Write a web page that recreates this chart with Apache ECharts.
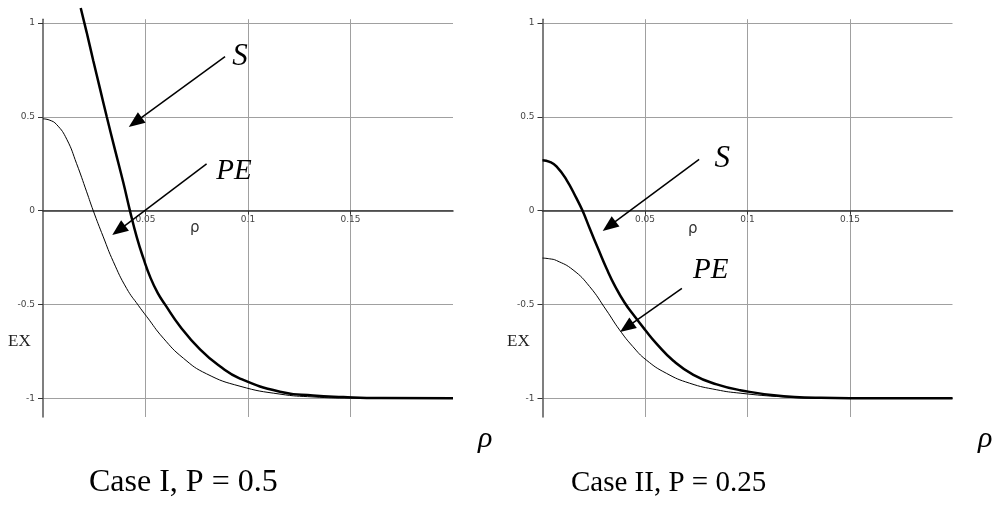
<!DOCTYPE html>
<html>
<head>
<meta charset="utf-8">
<script src="https://cdn.jsdelivr.net/npm/echarts@6.0.0/dist/echarts.min.js"></script>
<style>
  html, body { margin: 0; padding: 0; background: #fff; }
  #chart { width: 1002px; height: 510px; }
</style>
</head>
<body>
<div id="chart"></div>
<script>
// Case I, P = 0.5
const rhoS1 = [0.0184, 0.0213, 0.0245, 0.0278, 0.0311, 0.0351, 0.0392, 0.0424, 0.0457, 0.049, 0.0525, 0.056, 0.0595, 0.0668, 0.0766, 0.0863, 0.0961, 0.1156, 0.1317, 0.1465, 0.165, 0.2];
const exS1 = [1.08, 0.95, 0.80, 0.65, 0.50, 0.325, 0.148, 0.0, -0.14, -0.255, -0.36, -0.44, -0.5, -0.616, -0.74, -0.83, -0.895, -0.965, -0.986, -0.994, -0.999, -1.0];
const rhoPE1 = [0, 0.003, 0.0067, 0.0116, 0.0164, 0.0213, 0.0245, 0.0294, 0.0343, 0.0408, 0.0465, 0.0506, 0.0587, 0.0685, 0.0798, 0.0961, 0.1156, 0.1317, 0.15, 0.2];
const exPE1 = [0.489, 0.483, 0.458, 0.38, 0.25, 0.1, 0.0, -0.14, -0.272, -0.415, -0.505, -0.565, -0.68, -0.787, -0.87, -0.936, -0.978, -0.993, -0.999, -1.0];

// Case II, P = 0.25
const rhoS2 = [0, 0.0035, 0.0068, 0.0117, 0.0166, 0.0195, 0.0231, 0.0272, 0.0313, 0.0355, 0.04, 0.045, 0.05, 0.0557, 0.0638, 0.0736, 0.085, 0.0964, 0.1177, 0.133, 0.15, 0.2];
const exS2 = [0.268, 0.26, 0.236, 0.164, 0.065, 0.0, -0.097, -0.205, -0.31, -0.405, -0.49, -0.565, -0.635, -0.71, -0.8, -0.875, -0.926, -0.957, -0.99, -0.997, -1.0, -1.0];
const rhoPE2 = [0, 0.0035, 0.0068, 0.0149, 0.023, 0.0311, 0.0376, 0.0441, 0.0506, 0.0604, 0.0718, 0.085, 0.0964, 0.1177, 0.135, 0.2];
const exPE2 = [-0.253, -0.257, -0.266, -0.316, -0.405, -0.53, -0.636, -0.725, -0.796, -0.867, -0.92, -0.955, -0.973, -0.993, -0.999, -1.0];

const yTicks = [-1, -0.5, 0, 0.5, 1];
const caseTitles = ['Case I, P = 0.5', 'Case II, P = 0.25'];

// annotation arrows [start, end] and their labels, in data units
const arrows1 = [[[0.0888, 0.820], [0.0450, 0.471]], [[0.0798, 0.249], [0.0369, -0.105]]];
const arrows2 = [[[0.0764, 0.273], [0.0325, -0.083]], [[0.0680, -0.414], [0.0410, -0.622]]];
const labels1 = [['S', 0.0961, 0.821], ['PE', 0.0932, 0.209]];
const labels2 = [['S', 0.0877, 0.275], ['PE', 0.0821, -0.316]];

const zip = (xs, ys) => xs.map((x, i) => [x, ys[i]]);

const chart = echarts.init(document.getElementById('chart'), null, { renderer: 'canvas' });

const serif = "'Liberation Serif', 'Times New Roman', serif";
const smallFont = "'DejaVu Sans', Verdana, sans-serif";

// grid geometry: y from -1.1 to 1.02 over 397.8px, so y = 0 sits 206.4px above the bottom
const yMin = -1.1, yMax = 1.02, gridH = 397.8;
const zeroOffset = -gridH * (0 - yMin) / (yMax - yMin);

function makeX(i) {
  return {
    gridIndex: i, type: 'value', min: 0, max: 0.2, interval: 0.05,
    position: 'bottom', offset: zeroOffset,
    axisLine: { onZero: false, lineStyle: { color: '#333', width: 1.5 } },
    axisTick: { show: true, length: 4, lineStyle: { color: '#333' } },
    axisLabel: { showMinLabel: false, showMaxLabel: false, fontSize: 9, color: '#444', margin: 5, fontFamily: smallFont },
    splitLine: { show: true, showMinLine: false, showMaxLine: false, lineStyle: { color: '#a0a0a0', width: 1 } }
  };
}

function makeY(i) {
  return {
    gridIndex: i, type: 'value', min: yMin, max: yMax,
    axisLine: { show: true, onZero: false, lineStyle: { color: '#555', width: 1.5 } },
    axisTick: { show: true, length: 5, customValues: yTicks, lineStyle: { color: '#333' } },
    axisLabel: { customValues: yTicks, fontSize: 9, color: '#444', margin: 8, fontFamily: smallFont },
    splitLine: { show: true, lineStyle: { color: '#a0a0a0', width: 1 } }
  };
}

function arrowMarks(arrows) {
  return {
    silent: true, symbol: ['none', 'triangle'], symbolSize: [13, 16],
    lineStyle: { color: '#000', width: 1.5, type: 'solid' },
    label: { show: false },
    data: arrows.map(a => [{ coord: a[0] }, { coord: a[1] }])
  };
}

function textMarks(labels) {
  return {
    silent: true, symbol: 'circle', symbolSize: 0,
    label: {
      show: true, position: 'inside', formatter: '{b}',
      fontFamily: serif, fontStyle: 'italic', color: '#000'
    },
    data: labels.map(l => ({ name: l[0], coord: [l[1], l[2]], label: { fontSize: l[0] === 'S' ? 31 : 29 } }))
  };
}

function curve(i, name, data, width, extra) {
  return Object.assign({
    name: name, type: 'line', xAxisIndex: i, yAxisIndex: i,
    data: data, showSymbol: false, smooth: 0.5, clip: false,
    lineStyle: { color: '#000', width: width }
  }, extra || {});
}

const option = {
  animation: false,
  backgroundColor: '#fff',
  grid: [
    { left: 43, top: 19.2, width: 410, height: gridH },
    { left: 542.5, top: 19.2, width: 410, height: gridH }
  ],
  xAxis: [makeX(0), makeX(1)],
  yAxis: [makeY(0), makeY(1)],
  series: [
    curve(0, 'S', zip(rhoS1, exS1), 2.5, { markLine: arrowMarks(arrows1), markPoint: textMarks(labels1) }),
    curve(0, 'PE', zip(rhoPE1, exPE1), 1),
    curve(1, 'S', zip(rhoS2, exS2), 2.5, { markLine: arrowMarks(arrows2), markPoint: textMarks(labels2) }),
    curve(1, 'PE', zip(rhoPE2, exPE2), 1)
  ],
  graphic: [
    { type: 'text', left: 8, top: 333, style: { text: 'EX', font: "17px " + serif, fill: '#222' } },
    { type: 'text', left: 507, top: 333, style: { text: 'EX', font: "17px " + serif, fill: '#222' } },
    { type: 'text', left: 190, top: 221, style: { text: 'ρ', font: "15px " + smallFont, fill: '#333' } },
    { type: 'text', left: 688, top: 222, style: { text: 'ρ', font: "15px " + smallFont, fill: '#333' } },
    { type: 'text', left: 478, top: 424, style: { text: 'ρ', font: "italic 30px " + serif, fill: '#000' } },
    { type: 'text', left: 978, top: 424, style: { text: 'ρ', font: "italic 30px " + serif, fill: '#000' } },
    { type: 'text', left: 89, top: 467, style: { text: caseTitles[0], font: "32px " + serif, fill: '#000' } },
    { type: 'text', left: 571, top: 469, style: { text: caseTitles[1], font: "29px " + serif, fill: '#000' } }
  ]
};

chart.setOption(option);
</script>
</body>
</html>
